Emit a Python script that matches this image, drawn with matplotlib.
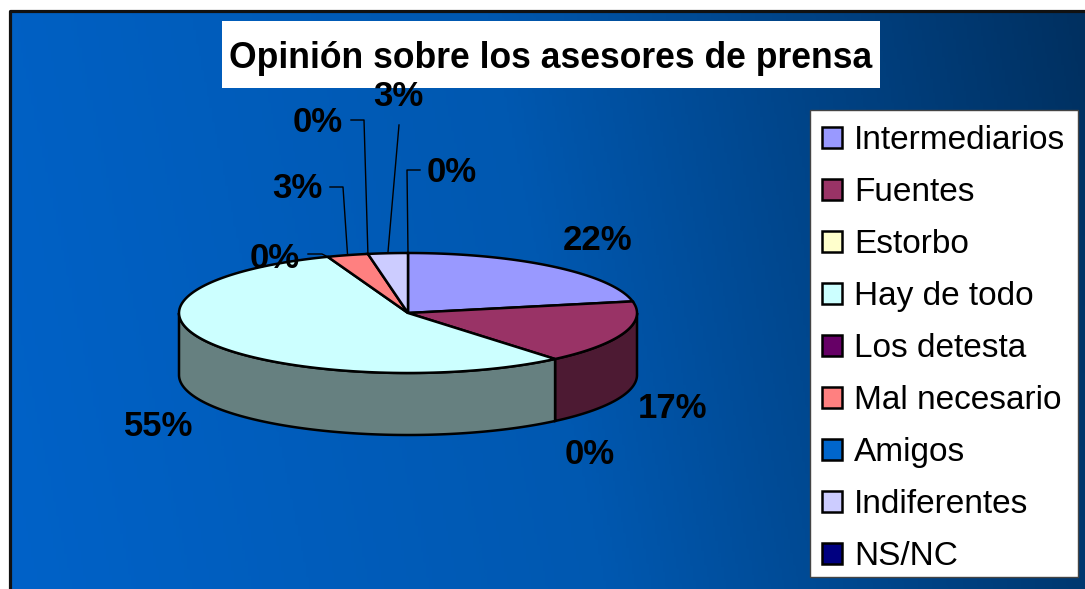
import numpy as np
import matplotlib
matplotlib.use('Agg')
import matplotlib.pyplot as plt
from matplotlib.colors import LinearSegmentedColormap, to_rgb
from matplotlib.patches import Patch, Polygon, Rectangle

categories = ['Intermediarios', 'Fuentes', 'Estorbo', 'Hay de todo', 'Los detesta',
              'Mal necesario', 'Amigos', 'Indiferentes', 'NS/NC']
values = [21.9, 17.0, 0, 55.4, 0, 2.9, 0, 2.8, 0]
colors = ['#9999FF', '#993366', '#FFFFCC', '#CCFFFF', '#660066',
          '#FF8080', '#0066CC', '#CCCCFF', '#000080']
title = 'Opinión sobre los asesores de prensa'

W, H = 1085, 589
cx, cy, rx, ry, depth = 408, 313, 229, 60, 62

# label centre, and the elbow of the leader line if it has one
label_pos = [(598, 240), (673, 409), (590, 455), (159, 426), (275, 258),
             (297, 189), (318, 123), (398, 97), (452, 172)]
leaders = [None, None, None, None, [(308, 254), (322, 254)],
           [(330, 187), (343, 187)], [(351, 120), (364, 120)],
           [(399, 125)], [(420, 170), (407, 170)]]

plt.rcParams['font.family'] = ['Liberation Sans', 'DejaVu Sans']

fig = plt.figure(figsize=(W / 100, H / 100), dpi=100)
ax = fig.add_axes([0, 0, 1, 1])
ax.set_xlim(0, W)
ax.set_ylim(H, 0)
ax.axis('off')

# background gradient, a bit diagonal
gx, gy = np.meshgrid(np.linspace(0, 1, 400), np.linspace(0, 1, 200))
grad = np.clip(gx * 0.9 + (1 - gy) * 0.1, 0, 1)
cmap = LinearSegmentedColormap.from_list('bg', ['#0062C8', '#0058B0', '#003060'])
ax.imshow(grad, cmap=cmap, extent=(10, W, H, 10), aspect='auto', zorder=0)
ax.set_xlim(0, W)
ax.set_ylim(H, 0)
ax.plot([10, 10, W], [H, 10.5, 10.5], color='#111111', lw=2.3, zorder=1)


def rim(t):
    # t is clockwise from 12 o'clock, in radians
    return cx + rx * np.sin(t), cy - ry * np.cos(t)


edges = np.cumsum([0] + values) / sum(values) * 2 * np.pi

# side walls, only the front half of the pie shows
for i, v in enumerate(values):
    a, b = max(edges[i], np.pi / 2), min(edges[i + 1], 3 * np.pi / 2)
    if v == 0 or b <= a:
        continue
    t = np.linspace(a, b, 120)
    x, y = rim(t)
    pts = np.r_[np.c_[x, y], np.c_[x, y + depth][::-1]]
    shade = tuple(c * 0.5 for c in to_rgb(colors[i]))
    ax.add_patch(Polygon(pts, closed=True, fc=shade, ec='black', lw=1.8, zorder=2))

# top faces
for i, v in enumerate(values):
    if v == 0:
        continue
    t = np.linspace(edges[i], edges[i + 1], 120)
    x, y = rim(t)
    pts = np.r_[[(cx, cy)], np.c_[x, y]]
    ax.add_patch(Polygon(pts, closed=True, fc=colors[i], ec='black', lw=1.8, zorder=3))

# title box
ax.add_patch(Rectangle((222, 21), 658, 67, fc='white', ec='none', zorder=4))
ax.text(551, 58.5, title, ha='center', va='center', fontsize=25.6,
        fontweight='bold', color='black', zorder=5)

# percent labels and leader lines
for i, v in enumerate(values):
    ax.text(label_pos[i][0], label_pos[i][1], '%d%%' % round(v), ha='center', va='center',
            fontsize=25, fontweight='bold', color='black', zorder=6)
    if leaders[i] is not None:
        mid = (edges[i] + edges[i + 1]) / 2
        ex, ey = rim(mid)
        xs = [p[0] for p in leaders[i]] + [ex]
        ys = [p[1] for p in leaders[i]] + [ey]
        ax.plot(xs, ys, color='black', lw=1, zorder=6)

# legend, box drawn apart so the rows can sit where they should
ax.add_patch(Rectangle((810, 110), 268, 467, fc='white', ec='#444444', lw=1, zorder=7))
handles = [Patch(fc=c, ec='black', lw=1.8) for c in colors]
leg = ax.legend(handles, categories, loc='upper left', bbox_to_anchor=(810 / W, 1 - 113 / H),
                bbox_transform=fig.transFigure, fontsize=24, frameon=False, borderaxespad=0,
                borderpad=0.36, labelspacing=0.63, handlelength=0.6, handleheight=0.6,
                handletextpad=0.36)
leg.set_zorder(8)

fig.savefig('out.png', dpi=100)
